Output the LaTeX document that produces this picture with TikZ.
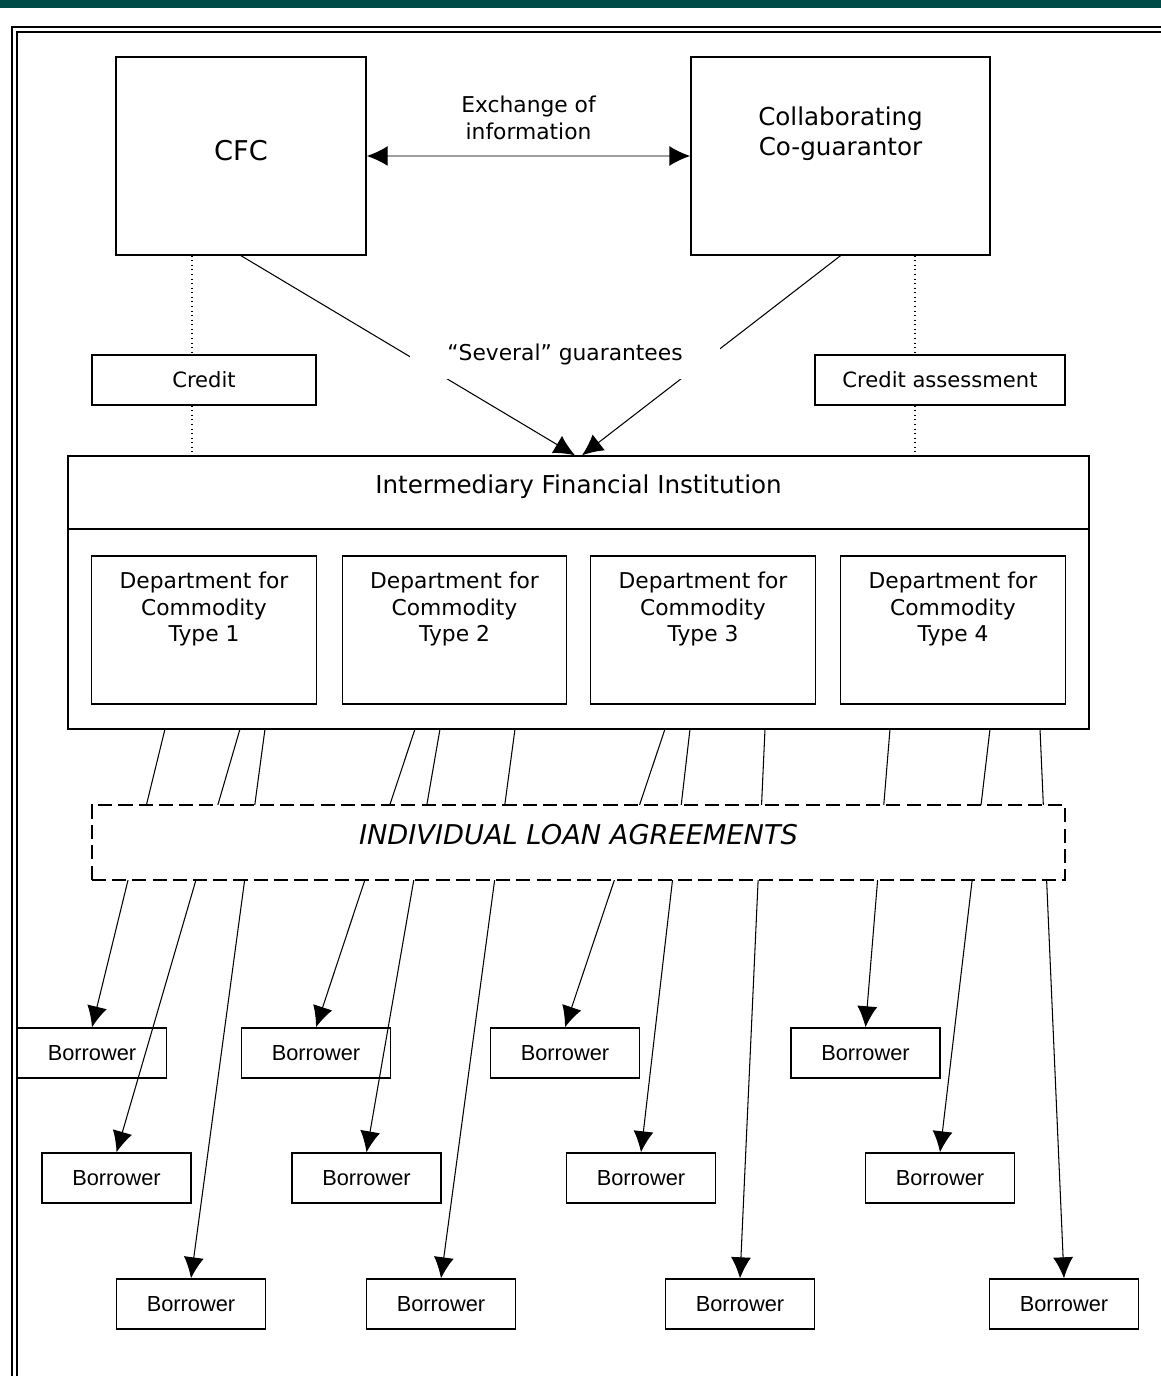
\documentclass[tikz,border=0pt]{standalone}
\usepackage{fontspec}
\setmainfont{DejaVu Sans}
\newfontfamily\arialfont{Liberation Sans}
\usepackage{tikz}
\usetikzlibrary{arrows.meta, calc, positioning}
\definecolor{topbar}{RGB}{0,75,72}

\begin{document}
\begin{tikzpicture}[>={Latex[length=0.42cm,width=0.4cm]},
    box/.style={draw, line width=0.8pt, inner sep=0pt},
    bigbox/.style={box, minimum height=3.96cm},
    small/.style={box, minimum height=1cm, font=\fontsize{12}{14}\selectfont},
    dept/.style={box, minimum width=4.49cm, minimum height=2.96cm},
    borrower/.style={box, minimum width=2.98cm, minimum height=1cm, font=\arialfont\fontsize{12.4}{14}\selectfont},
    conn/.style={->, line width=0.6pt},
    xarr/.style={{Latex[black,length=0.42cm,width=0.4cm]}-{Latex[black,length=0.42cm,width=0.4cm]}, draw=gray!75, line width=0.8pt},
    lbl/.style={align=center, font=\fontsize{12.4}{15.3}\selectfont}]

    % 1. Khung trang
    \useasboundingbox (0,0) rectangle (23.22,-27.52);
    \fill[topbar] (0,0) rectangle (23.22,-0.16);
    \draw[line width=0.75pt] (0.24,-27.52) -- (0.24,-0.54) -- (23.22,-0.54);
    \draw[line width=0.75pt] (0.34,-27.52) -- (0.34,-0.64) -- (23.22,-0.64);

    % 2. CFC va dong bao lanh
    \node[bigbox, minimum width=5cm, text depth=0.24cm, font=\fontsize{15.5}{18}\selectfont] (cfc) at (4.82,-3.12) {CFC};
    \node[bigbox, minimum width=5.98cm] (cg) at (16.81,-3.12) {};
    \node[lbl, font=\fontsize{14}{17}\selectfont] (cgtext) at (16.81,-2.68) {Collaborating\\Co-guarantor};
    \draw[xarr] (cfc) -- (cg) node[midway, lbl, yshift=0.77cm] {Exchange of\\information};

    % 3. Tham dinh tin dung
    \node[small, minimum width=4.48cm] (cred) at (4.08,-7.6) {Credit};
    \node[small, minimum width=5cm] (cass) at (18.8,-7.6) {Credit assessment};

    % 4. To chuc tai chinh trung gian
    \node[box, minimum width=20.42cm, minimum height=5.46cm] (ifi) at (11.57,-11.85) {};
    \draw[line width=0.8pt] (ifi.west |- 0,-10.58) -- (ifi.east |- 0,-10.58);
    \node[font=\fontsize{14}{17}\selectfont] (ifititle) at (11.57,-9.74) {Intermediary Financial Institution};
    \foreach \i/\x in {1/4.08, 2/9.09, 3/14.06, 4/19.06} {
        \node[dept] (dep\i) at (\x,-12.6) {};
        \node[lbl] (dept\i) at (\x,-12.18) {Department for\\Commodity\\Type \i};
    }

    % 5. Bao lanh
    \draw[conn] (cfc.south) -- ([xshift=-0.07cm]ifi.north);
    \draw[conn] (cg.south) -- ([xshift=0.07cm]ifi.north);
    \node[lbl, fill=white, minimum width=6.2cm, minimum height=1cm] (sev) at (11.3,-7.08) {“Several” guarantees};

    \coordinate (dl) at (3.84,0);
    \coordinate (dr) at (18.3,0);
    \draw[dotted, line width=0.6pt] (dl |- cfc.south) -- (dl |- cred.north)
        (dl |- cred.south) -- (dl |- ifi.north);
    \draw[dotted, line width=0.6pt] (dr |- cg.south) -- (dr |- cass.north)
        (dr |- cass.south) -- (dr |- ifi.north);

    % 6. Nguoi vay
    \foreach \n/\x/\y in {1/1.84/-21.06, 2/2.33/-23.56, 3/3.82/-26.08,
                          4/6.32/-21.06, 5/7.33/-23.56, 6/8.82/-26.08,
                          7/11.3/-21.06, 8/12.82/-23.56, 9/14.8/-26.08,
                          10/17.31/-21.06, 11/18.8/-23.56, 12/21.28/-26.08} {
        \node[borrower] (b\n) at (\x,\y) {Borrower};
    }
    \foreach \n/\x in {1/3.3, 2/4.8, 3/5.3, 4/8.3, 5/8.8, 6/10.3,
                       7/13.3, 8/13.8, 9/15.3, 10/17.8, 11/19.8, 12/20.8} {
        \coordinate (s\n) at (\x,-14.58);
        \draw[conn] (s\n) -- (b\n.north);
    }

    % 7. Hop dong vay
    \node[box, dash pattern=on 8pt off 3.5pt, fill=white, minimum width=19.46cm, minimum height=1.5cm,
          text depth=0.32cm, font=\itshape\fontsize{15.5}{18}\selectfont] (loans) at (11.57,-16.85) {INDIVIDUAL LOAN AGREEMENTS};
\end{tikzpicture}
\end{document}
